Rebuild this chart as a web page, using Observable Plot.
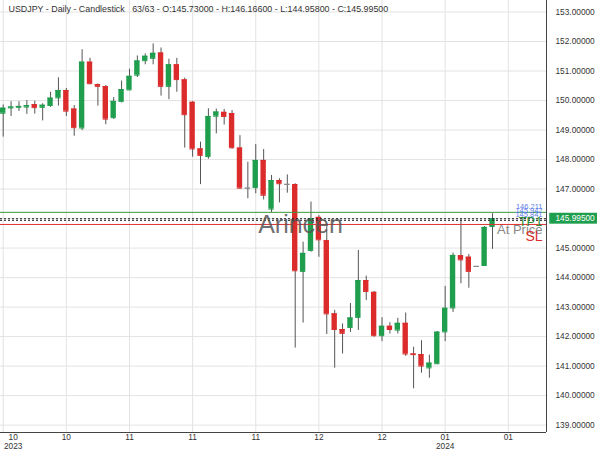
<!DOCTYPE html>
<html><head><meta charset="utf-8">
<script src="https://cdn.jsdelivr.net/npm/d3@7"></script>
<script src="https://cdn.jsdelivr.net/npm/@observablehq/plot@0.6"></script>
<style>body{margin:0;background:#fff;} svg{display:block;}</style>
</head><body><div id="chart"></div>
<script>
const opens  = [149.57,149.75,149.77,149.78,149.86,149.77,149.83,150.09,150.34,149.71,149.07,151.30,150.54,150.47,149.42,149.97,150.36,150.86,151.35,151.43,151.61,150.48,151.21,150.70,149.94,148.36,148.10,149.47,149.60,149.56,148.39,147.03,147.05,147.97,146.32,147.29,147.16,147.15,144.21,144.92,146.04,145.25,142.77,142.24,142.31,142.65,143.90,143.50,142.03,142.35,142.22,142.45,141.41,141.39,140.94,141.08,142.16,142.97,144.74,144.69,144.38,144.41,145.73];
const highs  = [149.85,149.96,149.96,150.00,149.98,149.89,150.28,150.77,150.41,149.83,151.72,151.43,150.56,150.51,150.10,150.66,151.06,151.51,151.58,151.92,151.78,151.40,151.43,150.76,149.97,148.59,149.72,149.71,149.70,149.66,148.81,147.91,148.51,148.34,147.46,147.35,147.48,147.18,145.20,146.56,146.10,145.75,142.89,142.43,143.12,144.92,144.05,143.53,142.64,142.47,142.62,142.80,141.64,141.86,141.37,142.17,143.70,144.83,145.96,144.78,144.38,145.73,146.166];
const lows   = [148.76,149.46,149.63,149.53,149.54,149.31,149.77,149.81,149.46,148.79,148.98,150.54,149.81,149.18,149.36,149.92,150.34,150.78,151.21,151.21,150.15,150.03,150.28,148.39,148.08,147.15,148.01,148.87,149.17,148.35,147.01,146.67,146.84,146.63,146.20,146.53,146.86,141.61,142.46,144.86,144.69,142.07,140.93,141.41,142.14,142.21,143.22,141.98,141.83,142.09,142.09,141.33,140.23,140.76,140.59,141.05,141.83,142.82,143.79,143.64,144.38,144.38,144.958];
const closes = [149.74,149.78,149.80,149.83,149.76,149.84,150.08,150.34,149.64,149.08,151.30,150.57,150.48,149.37,149.97,150.37,150.82,151.34,151.50,151.60,150.48,151.21,150.71,149.52,148.36,148.14,149.46,149.61,149.46,148.40,147.03,147.03,147.97,146.79,147.29,147.18,147.16,144.23,144.82,145.99,145.28,142.77,142.24,142.11,142.63,143.90,143.53,142.03,142.35,142.24,142.45,141.41,141.39,141.00,141.10,142.15,142.96,144.75,144.60,144.21,144.38,145.70,145.995];

const yTicks = [139,140,141,142,143,144,145,146,147,148,149,150,151,152,153];
const xTickIdx = [0,8,16,24,32,40,48,56,64];
const xTickLabels = ["10\n2023","10","11","11","11","12","12","01\n2024","01"];

const titleText = "USDJPY - Daily - Candlestick   63/63 - O:145.73000 - H:146.16600 - L:144.95800 - C:145.99500";
const lastPrice = 145.995;
const tpLevels = [146.211];
const entryLevels = [145.995, 145.94];
const slLevels = [145.80];
const levelLabels = ["146.211","145.942","145.841"];

const GREEN = "#1f9e4d", RED = "#dc2b2b", GRAY = "#8a8a8a";
const candles = opens.map((o,i)=>({i, o, h: highs[i], l: lows[i], c: closes[i]}));
const col = d => d.c > d.o ? GREEN : d.c < d.o ? RED : GRAY;
const half = 0.34;
const xDomain = [-0.342, 68.84];
const yDomain = [138.75, 153.39];
const xTicks = xTickIdx.map((i,k)=>({i, label: xTickLabels[k]}));
const font = "'Liberation Sans', Arial, sans-serif";
const labelOffsets = [-10, -5.5, -1.5];

const chart = Plot.plot({
  width: 600, height: 450,
  marginLeft: 0, marginRight: 54, marginTop: 0, marginBottom: 18,
  style: {fontFamily: font, background: "#fff"},
  x: {type: "linear", domain: xDomain, axis: null},
  y: {domain: yDomain, axis: null},
  marks: [
    Plot.gridY(yTicks, {stroke: "#e3e3e3", strokeOpacity: 1}),
    Plot.gridX(xTickIdx, {stroke: "#e3e3e3", strokeOpacity: 1}),
    Plot.axisY({anchor: "right", ticks: yTicks, tickFormat: d => d.toFixed(5), tickSize: 0, tickPadding: 9, fontSize: 8.3, fill: "#333"}),
    Plot.text(xTicks.slice(1), {x: "i", text: "label", frameAnchor: "bottom", lineAnchor: "top", dy: 2, fontSize: 8.3, lineHeight: 1.0, fill: "#333"}),
    Plot.text(xTicks.slice(0,1), {x: "i", text: "label", frameAnchor: "bottom", lineAnchor: "top", dy: 2, dx: 10, fontSize: 8.3, lineHeight: 1.0, fill: "#333"}),
    // candles
    Plot.ruleX(candles, {x: "i", y1: "l", y2: "h", stroke: "#555", strokeWidth: 1}),
    Plot.rect(candles, {x1: d => d.i - half, x2: d => d.i + half, y1: d => Math.min(d.o, d.c), y2: d => Math.max(d.o, d.c), fill: col}),
    Plot.ruleY(candles, {y: "o", x1: d => d.i - half, x2: d => d.i + half, stroke: col}),
    Plot.ruleY(candles, {y: "c", x1: d => d.i - half, x2: d => d.i + half, stroke: col}),
    // level lines
    Plot.ruleY(tpLevels, {stroke: "#3a9a3a", strokeWidth: 1}),
    Plot.ruleY(entryLevels, {stroke: "#222", strokeWidth: 1, strokeDasharray: "2,2"}),
    Plot.ruleY(slLevels, {stroke: "#d33", strokeWidth: 1}),
    // watermark & labels
    Plot.text(["Arincen"], {frameAnchor: "middle", dx: 27, dy: 8, fontSize: 25, fill: "#555", fillOpacity: 0.85}),
    ...levelLabels.map((t, k) => Plot.text([t], {frameAnchor: "right", dx: -4, dy: labelOffsets[k], fontSize: 7.5, fill: "#5b7de8", textAnchor: "end"})),
    Plot.text(["TP1"], {frameAnchor: "right", dx: -4, dy: 5, fontSize: 13, fill: "#2f8f3a", textAnchor: "end"}),
    Plot.text(["At Price"], {frameAnchor: "right", dx: -4, dy: 13, fontSize: 13, fill: "#888", textAnchor: "end"}),
    Plot.text(["SL"], {frameAnchor: "right", dx: -4, dy: 20, fontSize: 14, fill: "#d92b2b", textAnchor: "end"}),
    // title
    Plot.text([titleText], {frameAnchor: "top-left", dx: 8, dy: 5, lineAnchor: "top", fontSize: 8.9, fill: "#333"}),
    // axes lines
    Plot.ruleY([yDomain[0]], {stroke: "#444"}),
    Plot.ruleX([xDomain[1]], {stroke: "#444"}),
    // last price box
    Plot.rect([lastPrice], {x1: 69.25, x2: 75.3, y1: d => d - 0.185, y2: d => d + 0.185, fill: GREEN, clip: false}),
    Plot.text([lastPrice], {y: d => d, text: d => d.toFixed(5), frameAnchor: "right", dx: 9, textAnchor: "start", fontSize: 8.3, fill: "#fff"})
  ]
});
document.getElementById("chart").appendChild(chart);
</script>
</body></html>
